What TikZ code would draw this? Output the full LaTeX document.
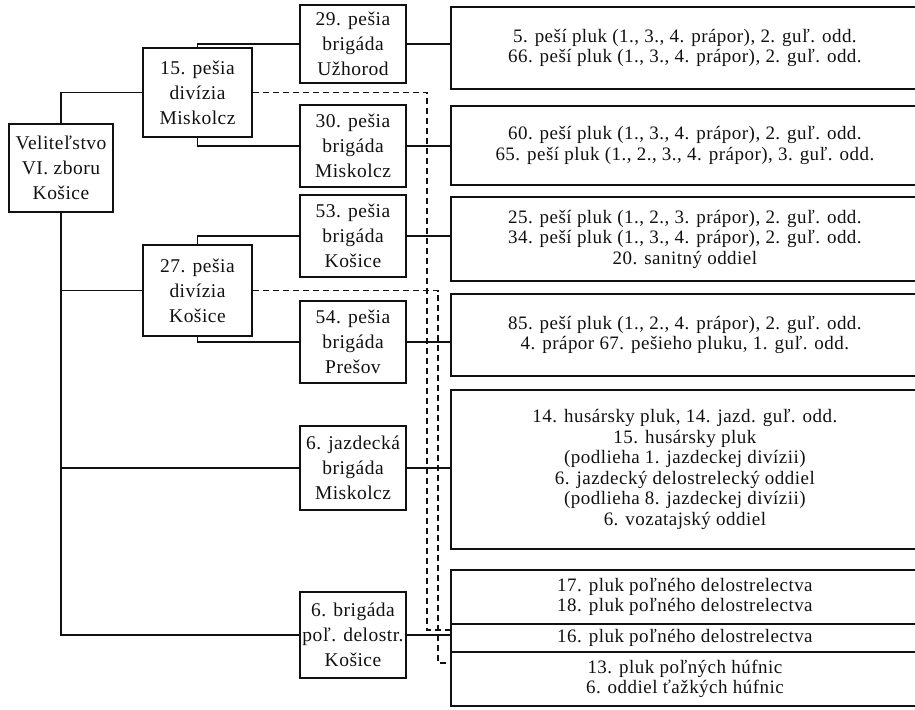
\documentclass[tikz,border=0pt]{standalone}
\usepackage{fontspec}
\setmainfont{Liberation Serif}[LetterSpace=2.5]
\usetikzlibrary{positioning}
\definecolor{vzInk}{HTML}{111111}
\newcommand{\vzleft}{\fontsize{19.5}{25}\selectfont}
\newcommand{\vzright}{\fontsize{19}{20.5}\selectfont}
\tikzset{
  vz box/.style={draw=vzInk, line width=1.8pt, align=center, font=\vzleft, text=vzInk, minimum width=106pt, inner sep=0pt},
  vz unit/.style={draw=vzInk, line width=1.8pt, align=center, font=\vzright, text=vzInk, minimum width=468pt, inner sep=0pt, anchor=west},
  vz link/.style={draw=vzInk, line width=1.6pt},
  vz dash/.style={draw=vzInk, line width=1.4pt, dash pattern=on 6pt off 4pt},
}

\begin{document}
\begin{tikzpicture}[x=1pt, y=-1pt]
  \clip (0,0) rectangle (915,709);

  % corps and divisions
  \node[vz box, minimum width=104pt, minimum height=88pt] (corps) at (61,168) {Veliteľstvo\\VI. zboru\\Košice};
  \node[vz box, minimum width=109pt, minimum height=89pt] (div15) at (197.5,92.5) {15. pešia\\divízia\\Miskolcz};
  \node[vz box, minimum width=109pt, minimum height=91pt] (div27) at (197.5,290.5) {27. pešia\\divízia\\Košice};

  % brigades
  \node[vz box, minimum height=78pt] (b29) at (353,44) {29. pešia\\brigáda\\Užhorod};
  \node[vz box, minimum height=82pt] (b30) at (353,146) {30. pešia\\brigáda\\Miskolcz};
  \node[vz box, minimum height=82pt] (b53) at (353,236) {53. pešia\\brigáda\\Košice};
  \node[vz box, minimum height=82pt] (b54) at (353,342) {54. pešia\\brigáda\\Prešov};
  \node[vz box, minimum height=84pt] (bjaz) at (353,468) {6. jazdecká\\brigáda\\Miskolcz};
  \node[vz box, minimum height=86pt] (bdel) at (353,635) {6. brigáda\\poľ. delostr.\\Košice};

  % units (boxes run out past the right edge)
  \node[vz unit, minimum height=82pt] (r1) at (450,48) {5. peší pluk (1., 3., 4. prápor), 2. guľ. odd.\\66. peší pluk (1., 3., 4. prápor), 2. guľ. odd.};
  \node[vz unit, minimum height=79pt] (r2) at (450,145.5) {60. peší pluk (1., 3., 4. prápor), 2. guľ. odd.\\65. peší pluk (1., 2., 3., 4. prápor), 3. guľ. odd.};
  \node[vz unit, minimum height=84pt] (r3) at (450,239) {25. peší pluk (1., 2., 3. prápor), 2. guľ. odd.\\34. peší pluk (1., 3., 4. prápor), 2. guľ. odd.\\20. sanitný oddiel};
  \node[vz unit, minimum height=82pt] (r4) at (450,335) {85. peší pluk (1., 2., 4. prápor), 2. guľ. odd.\\4. prápor 67. pešieho pluku, 1. guľ. odd.};
  \node[vz unit, minimum height=159pt] (r5) at (450,469.5) {14. husársky pluk, 14. jazd. guľ. odd.\\15. husársky pluk\\(podlieha 1. jazdeckej divízii)\\6. jazdecký delostrelecký oddiel\\(podlieha 8. jazdeckej divízii)\\6. vozatajský oddiel};
  \node[vz unit, minimum height=54pt] (r6) at (450,597) {17. pluk poľného delostrelectva\\18. pluk poľného delostrelectva};
  \node[vz unit, minimum height=28pt] (r7) at (450,638) {16. pluk poľného delostrelectva};
  \node[vz unit, minimum height=54pt] (r8) at (450,679) {13. pluk poľných húfnic\\6. oddiel ťažkých húfnic};

  % corps tree
  \draw[vz link] (corps.north) |- (div15.west);
  \draw[vz link] (corps.south) |- (div27.west);
  \draw[vz link] (corps.south) |- (bjaz.west);
  \draw[vz link] (corps.south) |- (bdel.west);
  \draw[vz link] (div15.north) |- (b29.west);
  \draw[vz link] (div15.south) |- (b30.west);
  \draw[vz link] (div27.north) |- (b53.west);
  \draw[vz link] (div27.south) |- (b54.west);

  % brigades to units
  \draw[vz link] (b29.east) -- (b29.east -| r1.west);
  \draw[vz link] (b30.east) -- (b30.east -| r2.west);
  \draw[vz link] (b53.east) -- (b53.east -| r3.west);
  \draw[vz link] (b54.east) -- (b54.east -| r4.west);
  \draw[vz link] (bjaz.east) -- (bjaz.east -| r5.west);
  \draw[vz link] (bdel.east) -- (bdel.east -| r7.west);

  % artillery attached to the divisions
  \coordinate (k15) at (427,630);
  \coordinate (k27) at (438,663);
  \draw[vz dash] (div15.east) -| (k15) -- (k15 -| r7.west);
  \draw[vz dash] (div27.east) -| (k27) -- (k27 -| r8.west);
\end{tikzpicture}
\end{document}
